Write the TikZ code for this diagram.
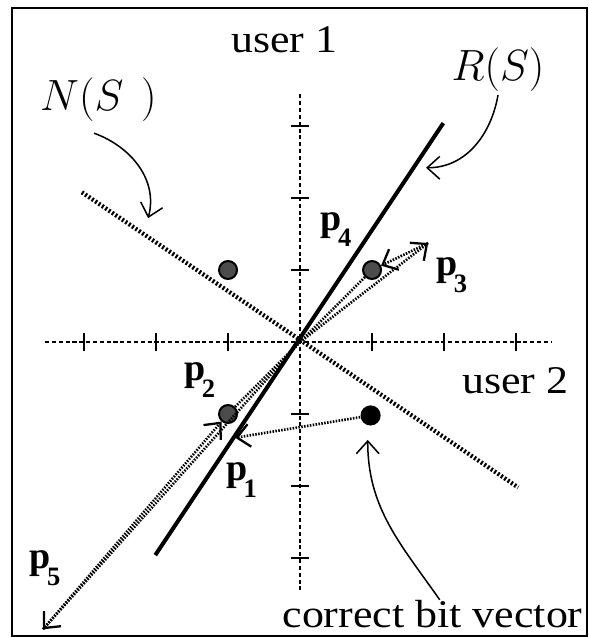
\documentclass[tikz,border=0pt]{standalone}
\usepackage{fontspec}
\setmainfont{Liberation Serif}
\newfontfamily\lblfont[FakeStretch=1.12]{Liberation Serif}
\usetikzlibrary{arrows.meta}

\newcommand{\plab}[1]{\textbf{p}\kern-1.5pt\raisebox{-6.5pt}{\fontsize{10.5}{12}\selectfont\bfseries #1}}

\begin{document}
\begin{tikzpicture}[
    axis/.style={line width=0.5pt, dash pattern=on 1.6pt off 1.1pt},
    tickmark/.style={line width=0.7pt},
    vec/.style={line width=1.05pt, dash pattern=on 0.6pt off 0.55pt},
    tip/.style={-{Straight Barb[length=5pt,width=9pt,line width=0.9pt]}},
    pointer/.style={line width=0.6pt, -{Straight Barb[length=5pt,width=9pt,line width=0.6pt]}},
    graydot/.style={circle, draw, line width=0.8pt, fill=black!70, minimum size=0.25cm, inner sep=0pt},
    blackdot/.style={circle, fill=black, minimum size=0.28cm, inner sep=0pt},
    txt/.style={font=\lblfont\fontsize{15.5}{17}\selectfont, inner sep=0pt},
    mathlbl/.style={font=\fontsize{17.28}{20}\selectfont, inner sep=0pt},
    plbl/.style={font=\fontsize{15}{17}\selectfont, inner sep=0pt}]
    \useasboundingbox (-4.167,-4.097) rectangle (4.0,4.75);
    \draw [line width=0.6pt] (-4.0,-4.083) rectangle (3.985,4.639);

    % axes with ticks
    \draw [axis] (-3.54,0) -- (3.5,0);
    \draw [axis] (0,-3.45) -- (0,3.47);
    \foreach \k in {-3,-2,-1,1,2,3} {
        \draw [tickmark] (\k,-0.125) -- (\k,0.125);
        \draw [tickmark] (-0.125,\k) -- (0.125,\k);
    }

    % the two lines
    \draw [line width=1.6pt] (-2.01,-2.96) -- (1.99,3.04);
    \draw [line width=1.7pt, dash pattern=on 0.8pt off 0.8pt] (-3.03,2.08) -- (3.03,-2.02);

    \coordinate (O) at (0,0);
    \node (d1) [graydot] at (-1,1) {};
    \node (d2) [graydot] at (1,1) {};
    \node (d3) [graydot] at (-1,-1) {};
    \node (cbv) [blackdot] at (0.98,-1.02) {};
    \coordinate (q3) at (1.78,1.375);
    \coordinate (q1) at (-0.9,-1.33);
    \coordinate (q5) at (-3.57,-3.99);

    \draw [vec] (O) -- (d2);
    \draw [vec,tip] (O) -- (q3);
    \draw [vec,tip] (q3) -- (d2);
    \draw [vec] (O) -- (d3);
    \draw [vec,tip] (O) -- (q5);
    \draw [vec,tip] (q5) -- (d3);
    \draw [vec,tip] (cbv) -- (q1);

    \node (p4) [plbl] at (0.5,1.56) {\plab{4}};
    \node (p3) [plbl] at (2.11,0.93) {\plab{3}};
    \node (p2) [plbl] at (-1.39,-0.53) {\plab{2}};
    \node (p1) [plbl] at (-0.81,-1.92) {\plab{1}};
    \node (p5) [plbl] at (-3.54,-3.14) {\plab{5}};

    \node (u1) [txt, anchor=base] at (-0.22,4.02) {user 1};
    \node (u2) [txt, anchor=base] at (2.99,-0.71) {user 2};
    \node (cbvtext) [txt, anchor=base] at (1.84,-3.96) {correct bit vector};
    \node (rs) [mathlbl, anchor=base] at (2.75,3.63) {$R(S)$};
    \node (ns) [mathlbl, anchor=base] at (-2.8,3.22) {$N(S\hspace{7pt})$};

    % pointers from the labels
    \coordinate (nsfrom) at (-2.86,2.9);
    \coordinate (nsto) at (-2.11,1.72);
    \coordinate (rsfrom) at (2.75,3.43);
    \coordinate (rsto) at (1.75,2.42);
    \coordinate (cbvfrom) at (1.94,-3.58);
    \coordinate (cbvto) at (0.94,-1.36);
    \draw [pointer] (nsfrom) to[out=-20,in=75] (nsto);
    \draw [pointer] (rsfrom) to[out=-100,in=0] (rsto);
    \draw [pointer] (cbvfrom) to[out=125,in=-90] (cbvto);
\end{tikzpicture}
\end{document}
